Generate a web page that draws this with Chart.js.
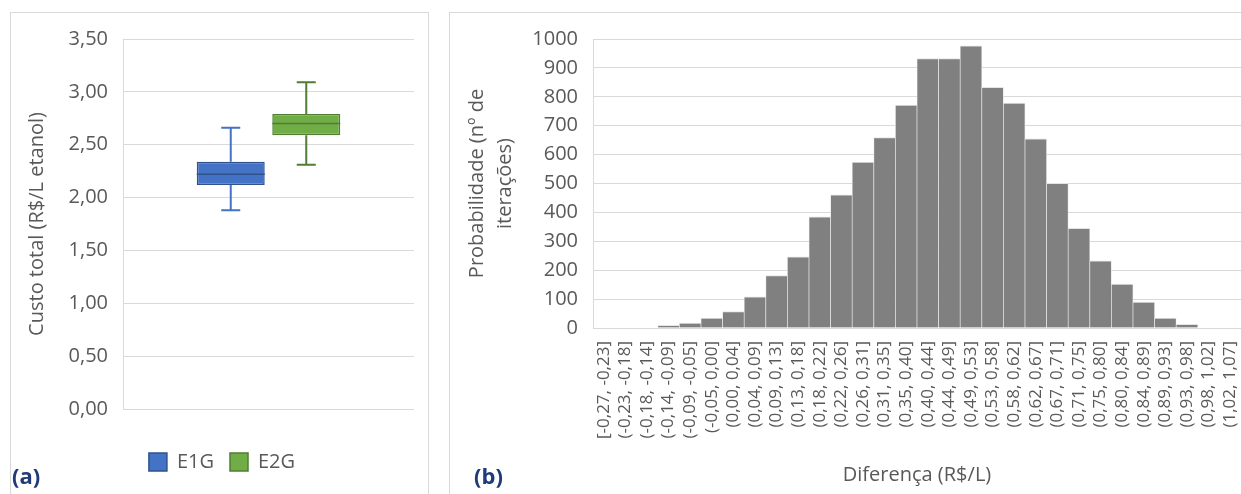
<!DOCTYPE html>
<html>
<head>
<meta charset="utf-8">
<script src="https://cdn.jsdelivr.net/npm/chart.js@4/dist/chart.umd.min.js"></script>
<style>
  html, body { margin: 0; padding: 0; background: #ffffff; }
  body { width: 1241px; height: 494px; overflow: hidden; position: relative; font-family: "Open Sans", sans-serif; }
  .frame { position: absolute; box-sizing: border-box; border: 1px solid #D9D9D9; border-bottom: none; }
  #frameA { left: 10px; top: 12px; width: 419px; height: 490px; }
  #frameB { left: 449px; top: 12px; width: 800px; height: 490px; }
  canvas { position: absolute; }
  #chartA { left: 10px; top: 12px; }
  #chartB { left: 449px; top: 12px; }
  .panelLabel { position: absolute; font-family: "Open Sans", sans-serif; font-weight: bold; font-size: 22px; line-height: 22px; color: #1F3B7A; }
</style>
</head>
<body>
<div class="frame" id="frameA"></div>
<div class="frame" id="frameB"></div>
<canvas id="chartA" width="418" height="482"></canvas>
<canvas id="chartB" width="792" height="482"></canvas>
<div class="panelLabel" style="left:12px; top:464px;">(a)</div>
<div class="panelLabel" style="left:474px; top:464px;">(b)</div>
<script>
// ---------- Data: panel (a) box plot ----------
const boxSeries = ['E1G', 'E2G'];
const boxMin    = [1.88, 2.31];
const boxQ1     = [2.12, 2.59];
const boxMedian = [2.22, 2.70];
const boxQ3     = [2.34, 2.79];
const boxMax    = [2.66, 3.09];

// ---------- Data: panel (b) histogram ----------
const histCategories = [
  '[-0,27, -0,23]', '(-0,23, -0,18]', '(-0,18, -0,14]', '(-0,14, -0,09]', '(-0,09, -0,05]',
  '(-0,05, 0,00]', '(0,00, 0,04]', '(0,04, 0,09]', '(0,09, 0,13]', '(0,13, 0,18]',
  '(0,18, 0,22]', '(0,22, 0,26]', '(0,26, 0,31]', '(0,31, 0,35]', '(0,35, 0,40]',
  '(0,40, 0,44]', '(0,44, 0,49]', '(0,49, 0,53]', '(0,53, 0,58]', '(0,58, 0,62]',
  '(0,62, 0,67]', '(0,67, 0,71]', '(0,71, 0,75]', '(0,75, 0,80]', '(0,80, 0,84]',
  '(0,84, 0,89]', '(0,89, 0,93]', '(0,93, 0,98]', '(0,98, 1,02]', '(1,02, 1,07]'
];
const histCounts = [0, 0, 0, 9, 17, 34, 57, 108, 181, 246, 385, 461, 574, 659, 771,
                    932, 932, 976, 833, 778, 655, 501, 345, 232, 152, 90, 34, 13, 0, 0];

// ---------- Styles ----------
const textColor = '#595959';
const gridColor = '#D9D9D9';
const boxFill   = ['#4472C4', '#70AD47'];
const boxEdge   = ['#2F528F', '#507E32'];
const whiskerColor = ['#4472C4', '#507E32'];

Chart.defaults.font.family = '"Open Sans", sans-serif';
Chart.defaults.color = textColor;
Chart.defaults.animation = false;

// Whiskers (drawn before boxes) and medians (after boxes), from the y scale
const boxPlotPlugin = {
  id: 'boxPlotParts',
  beforeDatasetsDraw(chart) {
    const ctx = chart.ctx, y = chart.scales.y;
    chart.data.datasets.forEach((ds, i) => {
      const meta = chart.getDatasetMeta(i);
      if (!chart.isDatasetVisible(i)) return;
      meta.data.forEach((bar) => {
        const x = bar.x, w = bar.width, cap = w * 0.28;
        const pMin = y.getPixelForValue(boxMin[i]);
        const pMax = y.getPixelForValue(boxMax[i]);
        const pQ1 = y.getPixelForValue(boxQ1[i]);
        const pQ3 = y.getPixelForValue(boxQ3[i]);
        ctx.save();
        ctx.strokeStyle = whiskerColor[i];
        ctx.lineWidth = 2;
        ctx.beginPath();
        ctx.moveTo(x, pMax); ctx.lineTo(x, pQ3);
        ctx.moveTo(x, pQ1); ctx.lineTo(x, pMin);
        ctx.moveTo(x - cap / 2, pMax); ctx.lineTo(x + cap / 2, pMax);
        ctx.moveTo(x - cap / 2, pMin); ctx.lineTo(x + cap / 2, pMin);
        ctx.stroke();
        ctx.restore();
      });
    });
  },
  afterDatasetsDraw(chart) {
    const ctx = chart.ctx, y = chart.scales.y;
    chart.data.datasets.forEach((ds, i) => {
      const meta = chart.getDatasetMeta(i);
      if (!chart.isDatasetVisible(i)) return;
      meta.data.forEach((bar) => {
        const x = bar.x, w = bar.width;
        const pMed = y.getPixelForValue(boxMedian[i]);
        ctx.save();
        ctx.strokeStyle = boxEdge[i];
        ctx.lineWidth = 1.5;
        ctx.beginPath();
        ctx.moveTo(x - w / 2, pMed); ctx.lineTo(x + w / 2, pMed);
        ctx.stroke();
        ctx.restore();
      });
    });
  }
};

new Chart(document.getElementById('chartA'), {
  type: 'bar',
  data: {
    labels: [''],
    datasets: boxSeries.map((name, i) => ({
      label: name,
      data: [[boxQ1[i], boxQ3[i]]],
      backgroundColor: boxFill[i],
      borderColor: boxEdge[i],
      borderWidth: 1.5,
      borderSkipped: false,
      categoryPercentage: 0.519,
      barPercentage: 0.9
    }))
  },
  options: {
    responsive: false,
    animation: false,
    layout: { padding: { left: 20, right: 14, top: 26, bottom: 12 } },
    plugins: {
      tooltip: { enabled: false },
      legend: {
        position: 'bottom',
        labels: { boxWidth: 18, boxHeight: 18, padding: 16, color: textColor, font: { size: 20 } }
      }
    },
    scales: {
      x: {
        display: true,
        grid: { display: false },
        border: { display: false },
        ticks: { display: false },
        afterFit(scale) { scale.height = 27; scale.paddingLeft = 0; scale.paddingRight = 0; }
      },
      y: {
        min: 0, max: 3.5,
        ticks: {
          stepSize: 0.5, padding: 15, color: textColor, font: { size: 20 },
          callback: (v) => Number(v).toFixed(2).replace('.', ',')
        },
        grid: { color: gridColor, lineWidth: 1, drawTicks: false },
        border: { display: true, color: gridColor },
        title: {
          display: true, text: 'Custo total (R$/L etanol)', color: textColor,
          font: { size: 20, lineHeight: 0.7 }, padding: { top: 0, bottom: 0 }
        },
        afterFit(scale) { scale.width = 93; }
      }
    }
  },
  plugins: [boxPlotPlugin]
});

new Chart(document.getElementById('chartB'), {
  type: 'bar',
  data: {
    labels: histCategories,
    datasets: [{
      label: 'Probabilidade',
      data: histCounts,
      backgroundColor: '#808080',
      borderColor: '#E4E4E4',
      borderWidth: { left: 0.7, right: 0.7, top: 1, bottom: 0 },
      borderSkipped: false,
      categoryPercentage: 1,
      barPercentage: 1
    }]
  },
  options: {
    responsive: false,
    animation: false,
    layout: { padding: { left: 0, right: 0, top: 26, bottom: 0 } },
    plugins: { legend: { display: false }, tooltip: { enabled: false } },
    scales: {
      x: {
        grid: { display: false, drawTicks: false },
        border: { display: false },
        ticks: { autoSkip: false, minRotation: 90, maxRotation: 90, padding: 13, color: textColor, font: { size: 17 } },
        title: {
          display: true, text: 'Diferença (R$/L)', color: textColor,
          font: { size: 20, lineHeight: 1.2 }, padding: { top: 0, bottom: 7 }
        },
        afterFit(scale) { scale.height = 166; scale.paddingLeft = 0; scale.paddingRight = 0; }
      },
      y: {
        min: 0, max: 1000,
        ticks: { stepSize: 100, padding: 15, color: textColor, font: { size: 20 }, callback: (v) => String(v) },
        grid: { color: gridColor, lineWidth: 1, drawTicks: false },
        border: { display: true, color: gridColor },
        title: {
          display: true, text: ['Probabilidade (nº de', 'iterações)'], color: textColor,
          font: { size: 20, lineHeight: 1.4 }, padding: { top: 14, bottom: 0 }
        },
        afterFit(scale) { scale.width = 144; }
      }
    }
  }
});
</script>
</body>
</html>
